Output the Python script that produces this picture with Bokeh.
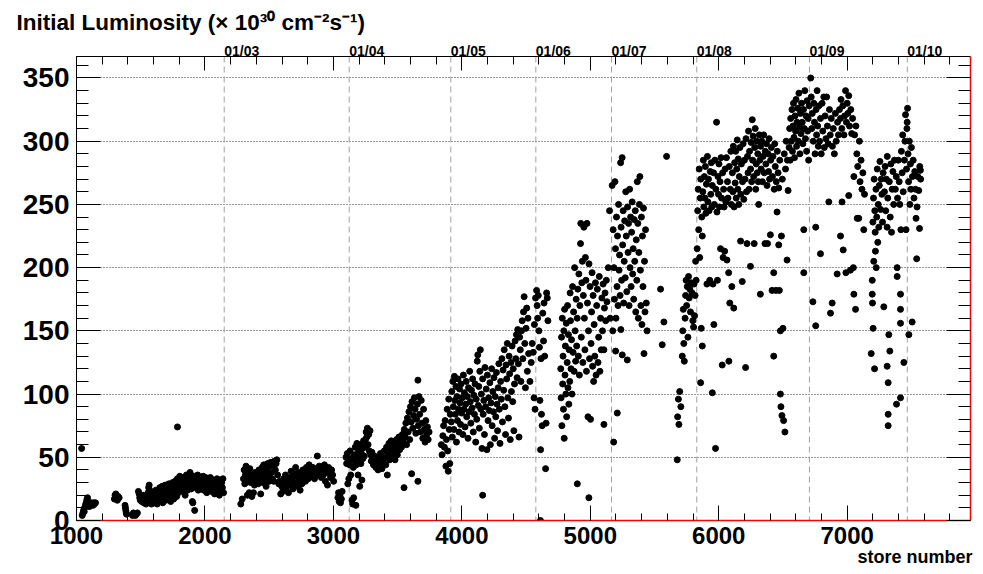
from bokeh.plotting import figure
from bokeh.models import Range1d, LinearAxis, SingleIntervalTicker, FixedTicker, Span, Title
from bokeh.embed import file_html
from bokeh.resources import INLINE

# ---------------- data (store number, initial luminosity) ----------------
date_labels = ["01/03", "01/04", "01/05", "01/06", "01/07", "01/08", "01/09", "01/10"]
date_stores = [2150, 3123, 3914, 4576, 5165, 5829, 6706, 7468]

run_2002 = [(1040,57),(1045,4),(1050,6),(1055,8),(1060,7),(1063,10),(1068,11),(1072,13),(1078,15),(1082,17),(1086,18),(1090,14),(1094,12),(1100,11),(1105,13),(1110,12),(1116,14),(1122,13),(1128,12),(1134,14),(1140,13),(1148,14),
    (1295,17),(1300,20),(1306,21),(1312,18),(1318,16),(1324,19),(1332,18),
    (1378,12),(1381,10),(1384,8),(1387,6),(1390,5),
    (1436,4),(1443,6),(1450,5),(1458,4),(1466,5),(1474,6),
    (1482,23),(1488,21),(1492,18),(1497,16),(1502,19),(1508,15),(1513,17),(1518,20),(1524,14),(1530,16),(1535,18),(1541,13),(1547,15),(1552,19),(1557,22),
    (1562,26),(1566,28),(1570,24),(1575,20),(1579,17),(1584,13),(1589,15),(1594,19),(1598,22),(1603,18),(1608,14),(1613,21),(1618,24),(1623,17),(1628,13),(1633,20),(1638,23),(1644,16),(1648,26),
    (1653,21),(1658,18),(1662,25),(1667,27),(1672,14),(1677,22),(1681,19),(1686,24),(1690,28),(1695,16),(1700,21),(1705,26),(1710,23),(1714,18),(1719,29),(1724,25),(1729,20),(1733,15),(1738,27),(1743,24),(1748,30),(1752,22),(1757,17),
    (1786,74),
    (1762,26),(1767,31),(1771,28),(1776,24),(1780,19),(1785,33),(1790,27),(1794,22),(1799,30),(1804,35),(1808,25),(1813,29),(1818,32),
    (1823,27),(1828,23),(1832,34),(1837,30),(1842,26),(1846,20),(1851,33),(1856,36),(1860,29),(1865,24),(1870,31),(1874,27),(1879,34),(1884,38),(1888,30),(1893,25),(1898,32),(1902,15),(1906,14),(1910,28),(1915,35),(1920,8),(1924,31),(1929,26),(1934,33),(1938,29),(1943,36),(1948,24),(1952,30),(1957,34),(1962,27),(1966,31),
    (1972,26),(1977,33),(1982,29),(1986,35),(1991,24),(1996,31),(2000,27),(2005,34),(2010,30),(2014,22),(2019,28),(2024,33),(2028,25),(2033,31),(2038,27),(2042,34),(2047,29),(2052,23),(2056,30),(2061,26),(2066,32),(2070,28),(2075,21),(2080,25),(2084,31),(2089,27),(2094,33),(2098,24),(2103,29),(2108,26),(2112,20),(2117,32),(2122,28),(2126,23),(2131,30),(2136,26),(2140,33),(2145,22)]

run_2003 = [(2279,13),(2290,17),(2300,33),(2305,40),(2310,29),(2315,36),(2320,43),(2325,31),(2330,20),(2335,38),(2340,34),(2345,22),(2350,41),(2355,30),(2360,36),(2365,19),(2370,33),(2378,22),(2385,28),(2392,38),(2400,31),(2408,35),(2415,29),(2420,40),(2427,33),(2434,21),(2440,37),(2446,42),(2452,30),(2458,44),(2464,34),(2470,38),(2476,27),(2482,41),(2488,45),(2494,36),(2500,31),(2506,43),(2512,46),(2518,38),(2524,33),(2530,44),(2536,31),(2542,47),(2548,40),(2554,45),(2560,48),(2566,36),
    (2575,29),(2582,31),(2590,21),(2598,27),(2605,23),(2612,33),(2620,29),(2627,36),(2634,26),(2642,31),(2650,22),(2657,34),(2664,28),(2671,39),(2678,33),(2685,25),(2692,37),(2699,30),(2706,42),(2713,35),(2720,27),(2727,38),(2734,32),(2741,24),(2748,36),(2755,29),(2762,40),(2769,34),(2776,38),(2783,31),(2790,42),(2797,36),(2804,33),(2811,44),(2818,38),(2825,40),(2832,35),(2839,42),(2846,37),(2853,33),(2860,41),(2868,38),(2875,51),(2882,36),(2890,43),(2898,39),(2906,34),(2914,41),(2922,36),(2930,44),(2938,31),(2946,39),(2954,28),(2962,42),(2970,37),(2978,34),(2986,40),(2994,36),(3002,31),
    (3035,18),(3040,22),(3045,15),(3050,20),(3055,14),(3062,17),(3068,23),
    (3098,50),(3103,45),(3108,53),(3112,29),(3115,47),(3120,33)]

run_2004 = [(3126,44),(3130,55),(3135,36),(3140,49),(3145,16),(3150,13),(3155,42),(3158,18),(3162,52),(3166,47),(3170,58),(3175,12),(3178,44),(3183,61),(3188,50),(3192,36),(3196,55),(3200,48),(3205,27),(3210,60),(3214,45),(3218,53),(3222,32),(3226,57),(3230,49),(3235,63),(3240,51),(3245,58),(3250,64),(3255,70),(3260,66),(3265,73),(3270,60),(3275,68),(3280,55),(3285,71),(3290,52),
    (3295,47),(3300,54),(3306,49),(3312,44),(3318,51),(3324,46),(3330,42),(3336,50),(3342,45),(3348,40),(3354,48),(3360,43),(3366,53),(3372,47),(3378,41),(3384,50),(3390,45),(3396,55),(3402,49),(3408,44),(3414,58),(3420,36),(3426,52),(3432,61),(3438,48),(3444,56),(3450,63),(3456,51),(3462,59),(3468,54),(3474,62),(3480,48),(3486,57),(3492,64),(3498,52),(3504,60),(3510,66),(3516,56),(3522,63),
    (3530,58),(3537,68),(3544,62),(3550,26),(3552,72),(3558,66),(3564,77),(3570,60),(3576,81),(3582,70),(3588,86),(3594,64),(3600,90),(3606,78),(3609,37),(3612,94),(3618,73),(3624,83),(3630,97),(3636,88),(3642,69),(3648,80),(3654,92),(3658,111),(3660,75),(3658,31),(3666,98),(3672,84),(3678,70),(3684,95),(3690,77),(3696,65),(3702,88),(3708,72),(3714,62),(3720,79),(3726,68),(3732,74),(3738,64),(3745,70),
    (3840,60),(3846,52),(3852,67),(3858,75),(3864,58),(3870,79),(3876,43),(3880,64),(3886,88),(3890,55),(3894,39),(3898,96),(3902,72),(3906,45),(3910,84)]

run_2005 = [(3918,78),(3922,102),(3926,66),(3930,110),(3934,90),(3938,72),(3942,114),(3946,95),(3950,84),(3954,106),(3958,62),(3962,98),(3966,79),(3970,112),(3974,88),(3978,70),(3982,104),(3986,93),(3990,76),(3994,108),(3998,85),
    (4003,97),(4008,68),(4012,115),(4016,88),(4020,101),(4025,74),(4030,92),(4034,110),(4038,82),(4043,98),(4048,65),(4052,105),(4056,86),(4061,118),(4066,94),(4070,77),(4075,103),(4080,89),(4084,112),(4089,70),(4094,99),(4098,84),(4103,108),(4108,62),(4112,96),(4116,80),(4120,126),(4124,131),(4128,91),(4132,106),(4136,73),(4140,118),(4144,135),(4148,88),
    (4162,20),
    (4152,100),(4157,57),(4162,112),(4166,84),(4171,95),(4176,68),(4180,121),(4185,90),(4190,104),(4195,56),(4199,115),(4204,79),(4209,97),(4213,87),(4218,109),(4222,60),(4227,93),(4232,120),(4236,75),(4241,102),(4246,86),(4250,113),(4255,65),(4260,98),(4264,82),(4269,117),(4274,92),(4278,71),(4283,105),(4288,124),(4292,88),(4297,61),
    (4302,110),(4307,96),(4312,128),(4316,78),(4321,119),(4326,103),(4330,135),(4335,90),(4340,68),(4344,123),(4349,112),(4354,140),(4358,97),(4363,81),(4368,130),(4372,116),(4377,64),(4382,125),(4386,102),(4391,138),(4396,94),(4400,120),(4405,71),(4410,108),(4415,142),
    (4420,128),(4425,147),(4430,113),(4435,151),(4440,124),(4445,66),(4450,145),(4455,135),(4460,110),(4465,150),(4470,158),(4475,128),(4480,165),(4485,177),(4490,140),(4495,105),(4500,152),(4505,168),(4510,118),(4515,160),(4520,132),(4530,110),(4540,125),(4548,140),(4556,133),(4562,97),(4565,155),(4570,88),(4574,176)]

run_2006 = [(4582,182),(4586,170),(4590,160),(4595,178),(4600,150),(4604,137),(4608,95),(4612,0),(4613,56),(4616,128),(4620,84),(4625,75),(4630,164),(4636,142),(4640,172),(4645,130),(4652,41),(4656,77),(4660,180),(4665,176),(4670,158),
    (4770,120),(4773,97),(4776,145),(4779,75),(4782,160),(4785,108),(4788,130),(4791,88),(4794,150),(4797,65),(4800,167),(4803,115),(4806,138),(4810,100),(4813,156),(4816,82),(4820,125),(4823,170),(4826,105),(4830,147),(4833,92),(4836,135),(4840,110),(4843,180),(4846,158),(4850,120),(4854,143),(4858,100),(4862,185),(4866,133),(4870,165),(4874,118),(4878,200),(4882,150),(4886,126),(4890,175),(4894,138),(4899,29),(4898,160),
    (4903,183),(4907,130),(4911,195),(4915,115),(4919,170),(4924,219),(4926,235),(4930,145),(4934,188),(4938,205),(4942,125),(4946,178),(4950,232),(4954,160),(4958,135),(4962,208),(4966,190),(4970,118),(4974,235),(4978,172),(4982,82),(4986,150),(4989,18),(4990,203),(4994,128),(4998,185),(5002,80),(5006,140),(5010,165),(5014,196),(5018,122),(5022,178),(5026,110),(5030,155),(5035,130),(5040,188),(5045,115),(5050,170),(5055,183),(5060,125),(5065,145),(5070,193),(5075,118),(5080,160),(5085,135),(5090,176),(5095,150),(5100,187),(5106,76),(5106,135),(5110,168),(5115,180),(5120,158),(5125,190),(5130,173),(5140,200),(5150,245),(5155,160)]

run_2007 = [(5170,265),(5175,150),(5178,230),(5182,62),(5184,200),(5188,175),(5192,268),(5196,215),(5197,134),(5200,160),(5204,240),(5208,185),(5210,85),(5212,225),(5216,170),(5220,250),(5224,198),(5228,210),(5232,178),(5236,283),(5238,151),(5240,232),(5244,190),(5248,287),(5249,131),(5252,218),(5256,245),(5260,172),(5264,205),(5268,237),(5272,192),(5276,260),(5280,225),(5284,181),(5288,127),(5290,248),(5294,212),(5298,235),(5302,170),(5306,262),(5310,200),(5314,240),(5318,185),(5322,228),(5326,252),(5330,195),(5334,215),(5338,175),(5342,238),(5346,205),(5350,245),(5354,165),(5358,222),(5362,190),(5366,268),(5370,235),(5374,160),(5378,212),(5382,250),(5386,272),(5390,198),(5394,170),(5398,240),(5402,155),(5406,225),(5410,185),(5414,247),(5418,132),(5422,205),(5426,165),(5430,230),(5436,172),(5442,150),
    (5547,183),(5560,139),(5573,157),(5594,288),
    (5677,48),(5680,82),(5686,96),(5690,76),(5696,102),(5705,90),(5716,130),(5720,150),(5724,167),(5728,140),(5732,126),(5738,160),(5742,178),(5746,190),(5750,170),(5755,185),(5760,145),(5765,193),(5770,176),(5775,183),(5780,165),(5786,188),(5792,180),(5798,158),(5804,153),(5808,187),(5812,162),(5816,178),(5820,205),(5824,190)]

run_2008 = [(5832,215),(5836,245),(5840,262),(5844,230),(5848,278),(5852,208),(5856,255),(5859,109),(5860,270),(5864,152),(5868,240),(5872,138),(5872,225),
    (5876,260),(5880,285),(5884,248),(5888,272),(5892,255),(5896,280),(5900,243),(5904,266),(5908,187),(5912,288),(5916,252),(5920,270),(5925,245),(5930,190),(5934,276),(5938,258),(5942,283),(5946,248),(5950,101),(5950,265),(5955,187),(5960,275),(5962,155),(5966,250),(5970,285),(5975,57),(5978,262),(5983,315),(5986,244),(5990,190),(5994,272),(5998,258),(6002,282),(6006,248),(6010,268),(6014,215),(6018,287),(6022,255),(6027,123),(6030,275),(6034,208),(6038,262),(6042,248),(6046,213),(6050,278),(6055,252),(6060,287),(6064,206),(6068,268),
    (6072,255),(6077,196),(6079,126),(6082,280),(6086,172),(6090,262),(6094,292),(6098,250),(6102,185),(6106,275),(6110,260),(6114,296),(6117,168),(6120,248),(6124,283),(6128,267),(6132,292),(6136,255),(6140,278),(6144,301),(6148,262),(6152,286),(6156,250),(6160,272),(6165,295),(6170,221),(6172,258),(6176,282),(6183,189),(6185,268),(6190,298),(6195,254),(6200,285),(6205,270),(6209,121),(6212,302),(6216,260),(6220,219),(6224,288),(6228,275),(6232,308),(6236,262),(6240,292),(6247,201),(6248,278),(6252,299),(6256,268),(6261,317),(6264,285),(6268,304),(6272,272),(6276,219),(6280,295),(6284,310),(6288,262),(6292,282),(6296,300),(6300,275),(6304,290),(6308,268),(6311,250),(6316,305),(6320,285),(6324,179),(6326,296),
    (6330,278),(6335,300),(6340,268),(6345,288),(6350,305),(6355,275),(6360,219),(6362,292),(6367,282),(6372,298),(6376,265),(6380,219),(6384,290),(6388,276),(6392,302),(6396,270),(6402,226),(6404,285),(6410,295),(6415,182),(6418,272),(6422,288),(6428,196),(6428,130),(6432,262),(6436,298),(6440,280),(6445,182),(6448,268),(6454,244),(6456,292),(6462,275),(6467,263),(6467,218),(6472,182),(6475,285),(6480,150),(6480,100),(6484,90),(6488,225),(6492,83),(6495,270),(6500,152),(6505,79),(6510,290),(6515,70),(6520,278),(6525,300),(6532,206),(6535,285),(6540,261),
    (6548,295),(6552,310),(6556,285),(6560,318),(6565,300),(6570,325),(6574,292),(6578,312),(6582,330),(6586,303),(6590,287),(6594,320),(6598,308),(6602,333),(6606,296),(6610,315),(6615,326),(6620,300),(6624,338),(6628,311),(6632,290),(6636,322),(6640,306),(6645,330),(6650,315),(6655,298),(6660,325),(6662,230),(6662,196),(6666,310),(6670,340),(6675,302),(6680,320),(6684,292),(6688,332),(6692,308),(6696,318),(6700,285),(6704,328)]

run_2009 = [(6716,350),(6720,335),(6724,310),(6728,322),(6733,173),(6736,300),(6740,330),(6745,315),(6750,290),(6755,232),(6755,154),(6758,325),(6762,305),(6766,340),(6770,312),(6775,296),(6780,328),(6785,300),(6792,211),(6792,318),(6798,290),(6805,330),(6810,308),(6818,335),(6822,295),(6828,320),(6835,302),(6840,335),(6846,312),(6852,298),(6857,252),(6862,325),(6868,305),(6870,164),(6876,318),(6883,172),(6885,296),(6892,310),(6900,290),(6908,322),(6915,300),(6922,195),(6925,315),(6932,305),(6940,325),(6948,225),(6948,318),(6952,333),(6958,310),(6960,252),(6966,328),(6969,214),(6975,305),(6980,320),(6987,340),(6990,196),(6994,315),(7000,330),(7005,322),(7012,257),(7012,336),(7018,312),(7025,198),(7028,325),(7035,306),(7042,318),(7048,200),(7052,272),(7052,179),(7058,305),(7065,167),(7068,312),(7075,290),(7078,239),(7082,280),(7090,239),(7095,300),(7100,268),(7108,285),(7115,262),(7122,275),(7129,230),(7135,258),
    (7187,132),(7195,190),(7195,179),(7197,172),(7200,236),(7202,152),(7205,255),(7207,205),(7210,270),(7213,120),(7215,245),(7218,228),(7220,213),(7224,262),(7226,200),(7230,240),(7234,278),(7238,220),(7242,250),(7246,232),(7250,265),(7255,284),(7260,246),(7265,270),(7270,258),(7275,236),(7280,275),(7285,169),(7290,260),(7295,280),(7300,245),(7305,270),(7311,122),(7311,232),(7312,288),(7316,255),(7319,109),(7319,84),(7319,75),(7324,147),(7328,268),(7332,134),(7335,240),(7340,282),(7345,228),(7350,262),(7356,276),(7362,250),(7368,285),(7375,262),(7382,272),(7384,92),(7389,200),(7389,193),(7392,255),(7398,285),(7405,268),(7410,250),(7415,179),(7415,167),(7415,156),(7415,97),(7418,230),(7422,292),(7428,275),(7432,305),(7436,260),(7441,125),(7445,285),(7450,300),(7454,321),(7458,230),(7462,278),(7465,310)]

run_2010 = [(7467,315),(7470,326),(7474,290),(7478,268),(7480,147),(7484,300),(7488,250),(7492,282),(7496,262),(7500,295),(7506,157),(7508,272),(7514,285),(7520,255),(7526,276),(7532,262),(7536,239),(7541,207),(7544,248),(7550,272),(7557,261),(7563,231),(7565,280),(7570,277),(7572,270)]

runs = [run_2002, run_2003, run_2004, run_2005, run_2006, run_2007, run_2008, run_2009, run_2010]
stores = [s for r in runs for (s, l) in r]
lumis = [l for r in runs for (s, l) in r]

X_MIN, X_MAX = 1000, 7960
Y_MIN, Y_MAX = 0, 367

FONT = "Liberation Sans"

p = figure(width=983, height=574,
           x_range=Range1d(X_MIN, X_MAX), y_range=Range1d(Y_MIN, Y_MAX),
           output_backend="svg", toolbar_location=None,
           min_border_left=76, min_border_right=13, min_border_top=56, min_border_bottom=54,
           outline_line_color=None, background_fill_color="white", border_fill_color="white")

xt = SingleIntervalTicker(interval=1000, num_minor_ticks=5)
yt = SingleIntervalTicker(interval=50, num_minor_ticks=5)

p.xgrid.visible = False
p.ygrid.ticker = yt
p.ygrid.grid_line_color = "black"
p.ygrid.grid_line_dash = "1 2"
p.ygrid.grid_line_alpha = 0.8

def style_axis(ax, ticker, major_in, minor_in, line_color, label_size, standoff):
    ax.ticker = ticker
    ax.major_tick_in = major_in
    ax.major_tick_out = 0
    ax.minor_tick_in = minor_in
    ax.minor_tick_out = 0
    ax.major_tick_line_color = "black"
    ax.minor_tick_line_color = "black"
    ax.axis_line_color = line_color
    ax.axis_line_width = 1.5 if line_color != "black" else 1
    ax.major_label_text_font = FONT
    ax.major_label_text_font_style = "bold"
    ax.major_label_text_font_size = label_size
    ax.major_label_standoff = standoff
    if label_size == "0px":
        ax.major_label_text_color = None
    else:
        ax.major_label_text_color = "black"

style_axis(p.xaxis[0], xt, 15, 7, "#ff0000", "24px", 6)
style_axis(p.yaxis[0], yt, 24, 12, "black", "28px", 7)

# mirror ticks on top and right (no labels)
top_ax = LinearAxis()
style_axis(top_ax, xt, 14, 8, "black", "0px", 0)
p.add_layout(top_ax, "above")

right_ax = LinearAxis()
style_axis(right_ax, yt, 24, 12, "#ff0000", "0px", 0)
p.add_layout(right_ax, "right")

# date axis: labels start at the dashed date line
pad = "\u00a0" * 9
date_ax = LinearAxis(ticker=FixedTicker(ticks=date_stores),
                     major_label_overrides={s: pad + l for s, l in zip(date_stores, date_labels)})
date_ax.major_tick_in = 0
date_ax.major_tick_out = 0
date_ax.minor_tick_in = 0
date_ax.minor_tick_out = 0
date_ax.axis_line_color = None
date_ax.major_tick_line_color = None
date_ax.minor_tick_line_color = None
date_ax.major_label_text_font = FONT
date_ax.major_label_text_font_style = "bold"
date_ax.major_label_text_font_size = "14px"
date_ax.major_label_text_color = "black"
date_ax.major_label_standoff = -2
p.add_layout(date_ax, "above")

for st in date_stores:
    p.add_layout(Span(location=st, dimension="height", line_color="#a0a0a0",
                      line_dash="6 4", line_width=1, level="underlay"))

p.scatter(stores, lumis, marker="circle", size=6, fill_color="black", line_color="black")

# title
p.title.text = "Initial Luminosity (\u00d7 10\u00b3\u2070 cm\u207b\u00b2s\u207b\u00b9)"
p.title.align = "left"
p.title.offset = -60
p.title.standoff = 9
p.title.text_font = FONT
p.title.text_font_style = "bold"
p.title.text_font_size = "22.5px"
p.title.text_color = "black"

# x axis title at the right end, below the tick labels
xtitle = Title(text="store number", align="right", offset=-2, standoff=-3,
               text_font=FONT, text_font_style="bold", text_font_size="18px", text_color="black")
p.add_layout(xtitle, "below")

open("out.html", "w").write(file_html(p, INLINE))
